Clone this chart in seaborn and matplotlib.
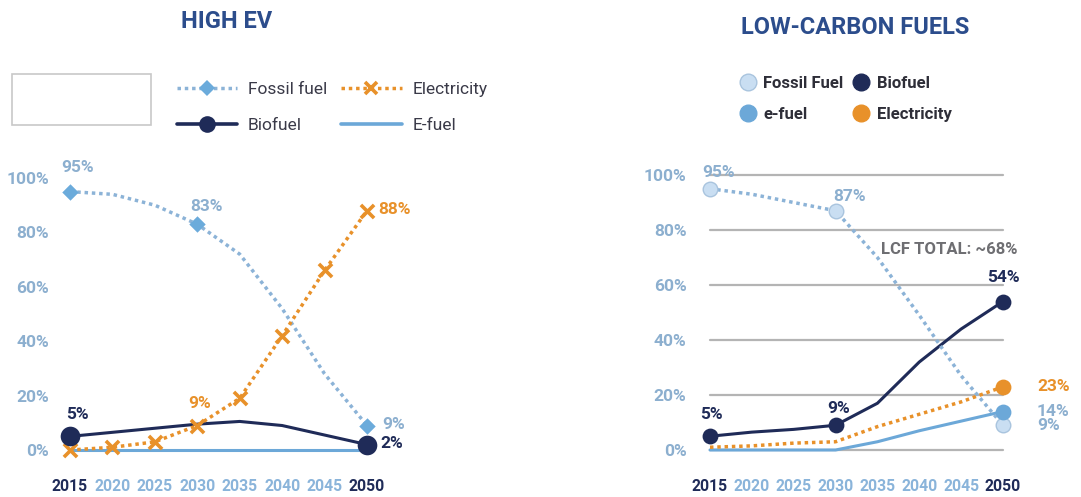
import matplotlib
matplotlib.use("Agg")
import matplotlib.pyplot as plt
import seaborn as sns
import pandas as pd
from matplotlib.lines import Line2D
from matplotlib.patches import Rectangle

# ---- data -----------------------------------------------------------------
years = [2015, 2020, 2025, 2030, 2035, 2040, 2045, 2050]
year_labels = ["2015", "2020", "2025", "2030", "2035", "2040", "2045", "2050"]
y_ticks = [0, 20, 40, 60, 80, 100]
y_tick_labels = ["0%", "20%", "40%", "60%", "80%", "100%"]

# HIGH EV scenario (share of energy, %)
ev_fossil = [95, 94, 90, 83, 72, 52, 28, 9]
ev_electricity = [0, 1, 3, 9, 19, 42, 66, 88]
ev_biofuel = [5, 6.5, 8, 9.5, 10.5, 9, 5.5, 2]
ev_efuel = [0, 0, 0, 0, 0, 0, 0, 0]

# LOW-CARBON FUELS scenario (share of energy, %)
lcf_fossil = [95, 93, 90, 87, 70, 49, 27, 9]
lcf_biofuel = [5, 6.5, 7.5, 9, 17, 32, 44, 54]
lcf_efuel = [0, 0, 0, 0, 3, 7, 10.5, 14]
lcf_electricity = [1, 1.5, 2.5, 3, 8.5, 13, 17.5, 23]

# ---- styling ----------------------------------------------------------------
sns.set_theme(style="white")
FONT = ["Roboto", "DejaVu Sans"]
plt.rcParams["font.family"] = FONT

NAVY = "#1f2b58"
ORANGE = "#e8912a"
FOSSIL_LINE = "#8cb3d7"
FOSSIL_MARK = "#6babdb"
EFUEL = "#6ca8d8"
FOSSIL_LIGHT = "#c9def2"
TICK = "#8cafcf"
YEAR_LIGHT = "#8ab4da"
TITLE = "#2c4d8c"
DOTTED = (0, (1.0, 1.1))

W, H = 1081, 497
fig = plt.figure(figsize=(W / 100, H / 100), dpi=100)


def px_axes(x0, x1, y_top, y_bot):
    return fig.add_axes([x0 / W, (H - y_bot) / H, (x1 - x0) / W, (y_bot - y_top) / H])


def style_axes(ax, ypad):
    ax.set_xlim(2015, 2050)
    ax.set_ylim(0, 100)
    for s in ax.spines.values():
        s.set_visible(False)
    ax.set_yticks(y_ticks)
    ax.set_yticklabels(y_tick_labels, color=TICK, fontsize=12.5, fontweight="bold")
    ax.set_xticks(years)
    ax.set_xticklabels(year_labels, fontsize=11.3, fontweight="bold")
    for i, t in enumerate(ax.get_xticklabels()):
        t.set_color(NAVY if i in (0, len(years) - 1) else YEAR_LIGHT)
    ax.tick_params(axis="y", length=0, pad=ypad)
    ax.tick_params(axis="x", length=0, pad=21)
    ax.set_xlabel("")
    ax.set_ylabel("")
    ax.grid(False)


def line(ax, values, color, lw, ls="-"):
    df = pd.DataFrame({"year": years, "value": values})
    sns.lineplot(data=df, x="year", y="value", ax=ax, color=color, lw=lw,
                 linestyle=ls, clip_on=False, legend=False)


def points(ax, values, idx, **kw):
    df = pd.DataFrame({"year": [years[i] for i in idx], "value": [values[i] for i in idx]})
    sns.scatterplot(data=df, x="year", y="value", ax=ax, clip_on=False, legend=False,
                    zorder=5, **kw)


def label(ax, text, i, values, dx, dy, color, ha="center"):
    ax.annotate(text, (years[i], values[i]), xytext=(dx, dy), textcoords="offset pixels",
                ha=ha, va="center", color=color, fontsize=12.5, fontweight="bold",
                annotation_clip=False)


# ---- HIGH EV ----------------------------------------------------------------
ax1 = px_axes(70, 367, 178, 450)
line(ax1, ev_efuel, EFUEL, 2.2)
line(ax1, ev_biofuel, NAVY, 2.2)
line(ax1, ev_fossil, FOSSIL_LINE, 2.5, DOTTED)
line(ax1, ev_electricity, ORANGE, 2.5, DOTTED)
points(ax1, ev_fossil, [0, 3, 7], color=FOSSIL_MARK, marker="D", s=70, linewidth=0)
points(ax1, ev_electricity, range(8), color=ORANGE, marker="x", s=90, linewidth=2.6)
points(ax1, ev_biofuel, [0, 7], color=NAVY, marker="o", s=200, linewidth=0)
style_axes(ax1, 15)

label(ax1, "95%", 0, ev_fossil, 8, 24, TICK)
label(ax1, "83%", 3, ev_fossil, 9, 18, TICK)
label(ax1, "9%", 7, ev_fossil, 15, 1, TICK, ha="left")
label(ax1, "88%", 7, ev_electricity, 11, 1, ORANGE, ha="left")
label(ax1, "9%", 3, ev_electricity, 2, 22, ORANGE)
label(ax1, "5%", 0, ev_biofuel, 7, 22, NAVY)
label(ax1, "2%", 7, ev_biofuel, 13, 1, NAVY, ha="left")
fig.text(227 / W, 1 - 22 / H, "HIGH EV", ha="center", va="center", color=TITLE,
         fontsize=17, fontweight="bold")

fig.patches.append(Rectangle((12 / W, 1 - 125 / H), 139 / W, 51 / H, transform=fig.transFigure,
                             fill=False, edgecolor="#c8c8c8", lw=1.2))

h_ev = [
    Line2D([], [], color=FOSSIL_LINE, lw=2.5, ls=DOTTED, marker="D", markersize=8,
           markerfacecolor=FOSSIL_MARK, markeredgewidth=0),
    Line2D([], [], color=NAVY, lw=2.6, marker="o", markersize=12, markeredgewidth=0),
    Line2D([], [], color=ORANGE, lw=2.5, ls=DOTTED, marker="x", markersize=9,
           markeredgewidth=2.6),
    Line2D([], [], color=EFUEL, lw=2.6),
]
leg1 = fig.legend(h_ev, ["Fossil fuel", "Biofuel", "Electricity", "E-fuel"], ncol=2,
                  loc="upper left", bbox_to_anchor=(161 / W, 1 - 66 / H), frameon=False,
                  handlelength=3.5, handletextpad=0.6, columnspacing=0.8,
                  labelspacing=1.2, prop={"family": FONT, "size": 12.5})
for t in leg1.get_texts():
    t.set_color("#3a3a48")

# ---- LOW-CARBON FUELS ---------------------------------------------------------
ax2 = px_axes(710, 1003, 175, 450)
for v in y_ticks:
    ax2.axhline(v, color="#b4b4b4", lw=1.6, zorder=0, clip_on=False)
line(ax2, lcf_efuel, EFUEL, 2.2)
line(ax2, lcf_electricity, ORANGE, 2.5, DOTTED)
line(ax2, lcf_biofuel, NAVY, 2.2)
line(ax2, lcf_fossil, FOSSIL_LINE, 2.5, DOTTED)
points(ax2, lcf_fossil, [0, 3, 7], color=FOSSIL_LIGHT, marker="o", s=110,
       edgecolor="#a9c4de", linewidth=1)
points(ax2, lcf_biofuel, [0, 3, 7], color=NAVY, marker="o", s=130, linewidth=0)
points(ax2, lcf_efuel, [7], color=EFUEL, marker="o", s=130, linewidth=0)
points(ax2, lcf_electricity, [7], color=ORANGE, marker="o", s=130, linewidth=0)
style_axes(ax2, 17)

label(ax2, "95%", 0, lcf_fossil, 9, 16, TICK)
label(ax2, "87%", 3, lcf_fossil, 14, 14, TICK)
label(ax2, "9%", 7, lcf_fossil, 34, 0, TICK, ha="left")
label(ax2, "14%", 7, lcf_efuel, 34, 0, TICK, ha="left")
label(ax2, "23%", 7, lcf_electricity, 34, 0, ORANGE, ha="left")
label(ax2, "54%", 7, lcf_biofuel, 0, 24, NAVY)
label(ax2, "5%", 0, lcf_biofuel, 1, 22, NAVY)
label(ax2, "9%", 3, lcf_biofuel, 3, 17, NAVY)
ax2.text(1.05, 0.73, "LCF TOTAL: ~68%", transform=ax2.transAxes, ha="right", va="center",
         color="#6e6e72", fontsize=12, fontweight="bold")
fig.text(855 / W, 1 - 28 / H, "LOW-CARBON FUELS", ha="center", va="center", color=TITLE,
         fontsize=17, fontweight="bold")

def dot(c, edge=None):
    return Line2D([], [], ls="", marker="o", markersize=12, markerfacecolor=c,
                  markeredgecolor=edge or c, markeredgewidth=1)

h_lcf = [dot(FOSSIL_LIGHT, "#a9c4de"), dot(EFUEL), dot(NAVY), dot(ORANGE)]
leg2 = fig.legend(h_lcf, ["Fossil Fuel", "e-fuel", "Biofuel", "Electricity"], ncol=2,
                  loc="upper left", bbox_to_anchor=(725 / W, 1 - 61 / H), frameon=False,
                  handlelength=0.9, handletextpad=0.5, columnspacing=0.6,
                  labelspacing=0.95, prop={"family": FONT, "size": 12, "weight": "bold"})
for t in leg2.get_texts():
    t.set_color("#2e2e38")

fig.savefig("out.png", dpi=100)
